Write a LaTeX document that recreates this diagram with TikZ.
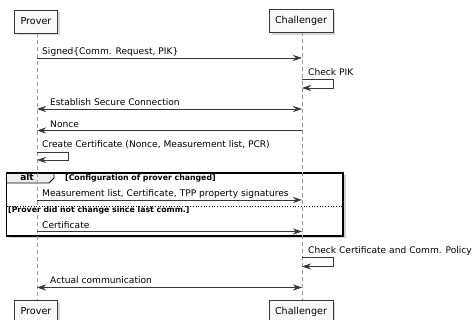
\documentclass[tikz,border=0pt]{standalone}
\usepackage{fontspec}
\setmainfont{DejaVu Sans}
\usetikzlibrary{arrows.meta,shadows}

\definecolor{linecol}{HTML}{383838}
\definecolor{lifecol}{HTML}{9A9A9A}
\definecolor{boxfill}{HTML}{F8F8F8}
\definecolor{tabfill}{HTML}{EEEEEE}

\tikzset{
  actor/.style={draw=linecol, fill=boxfill, line width=0.8pt, minimum height=23pt,
    inner xsep=6pt, inner ysep=0pt, font=\fontsize{9.6}{11}\selectfont,
    drop shadow={shadow xshift=2.5pt, shadow yshift=-2.5pt, fill=black!30}},
  lifeline/.style={draw=lifecol, line width=0.9pt, dash pattern=on 4pt off 3pt},
  msg/.style={draw=linecol, line width=0.8pt, -{Stealth[length=9pt, width=6pt, inset=3pt]}},
  bimsg/.style={msg, {Stealth[length=9pt, width=6pt, inset=3pt]}-{Stealth[length=9pt, width=6pt, inset=3pt]}},
  txt/.style={anchor=base west, inner sep=0pt, text=black, font=\fontsize{9.1}{11}\selectfont},
  guard/.style={anchor=base west, inner sep=0pt, font=\bfseries\fontsize{7.8}{9}\selectfont}
}

\begin{document}
\begin{tikzpicture}[x=1pt, y=-1pt]
  \useasboundingbox (0,0) rectangle (472,320);

  % alt frame (drawn first so the lifelines run over it)
  \draw[black, line width=1.3pt, fill=white,
    drop shadow={shadow xshift=2.5pt, shadow yshift=-2.5pt, fill=black!35}]
    (6.5,173) rectangle (343,236);
  \fill[tabfill] (6.5,173) -- (54,173) -- (54,178) -- (49,183) -- (6.5,183) -- cycle;
  \draw[black, line width=0.9pt] (6.5,183) -- (49,183) -- (54,178) -- (54,173);
  \draw[black, line width=1.3pt] (6.5,173) rectangle (343,236);
  \draw[black, line width=0.7pt, dotted] (6.5,206) -- (343,206);
  \node[anchor=base, inner sep=0pt, font=\bfseries\fontsize{9}{10}\selectfont] (alt) at (27,181) {alt};
  \node[guard] (g1) at (65,181) {[Configuration of prover changed]};
  \node[guard] (g2) at (8,212.5) {[Prover did not change since last comm.]};

  % participants and lifelines
  \coordinate (Ptop) at (37,33);
  \coordinate (Pbot) at (37,300);
  \coordinate (Ctop) at (302,32);
  \coordinate (Cbot) at (302,300);
  \draw[lifeline] (Ptop) -- (Pbot);
  \draw[lifeline] (Ctop) -- (Cbot);
  \node[actor] (P1) at (36,21.5) {Prover};
  \node[actor] (C1) at (301,21) {Challenger};
  \node[actor] (P2) at (36,311.5) {Prover};
  \node[actor] (C2) at (301,311.5) {Challenger};

  % messages
  \coordinate (p1) at (37,58);    \coordinate (c1) at (302,58);
  \draw[msg] (p1) -- (c1);
  \node[txt] (m1) at (42,55) {Signed\{Comm. Request, PIK\}};

  \coordinate (c2) at (302,79);   \coordinate (c3) at (302,88);
  \draw[msg] (c2) -- ++(31,0) |- (c3);
  \node[txt] (m2) at (308,76) {Check PIK};

  \coordinate (p4) at (37,109);   \coordinate (c4) at (302,109);
  \draw[bimsg] (p4) -- (c4);
  \node[txt] (m3) at (50,106) {Establish Secure Connection};

  \coordinate (p5) at (37,130.5); \coordinate (c5) at (302,130.5);
  \draw[msg] (c5) -- (p5);
  \node[txt] (m4) at (50,127.3) {Nonce};

  \coordinate (p6) at (37,152);   \coordinate (p7) at (37,160);
  \draw[msg] (p6) -- ++(31,0) |- (p7);
  \node[txt] (m5) at (42,147.5) {Create Certificate (Nonce, Measurement list, PCR)};

  \coordinate (p8) at (37,200);   \coordinate (c8) at (302,200);
  \draw[msg] (p8) -- (c8);
  \node[txt] (m6) at (42,196.7) {Measurement list, Certificate, TPP property signatures};

  \coordinate (p9) at (37,231.5); \coordinate (c9) at (302,231.5);
  \draw[msg] (p9) -- (c9);
  \node[txt] (m7) at (42,228.3) {Certificate};

  \coordinate (c10) at (302,257.5); \coordinate (c11) at (302,266.5);
  \draw[msg] (c10) -- ++(31,0) |- (c11);
  \node[txt] (m8) at (308,254) {Check Certificate and Comm. Policy};

  \coordinate (p12) at (37,287.5); \coordinate (c12) at (302,287.5);
  \draw[bimsg] (p12) -- (c12);
  \node[txt] (m9) at (50,284) {Actual communication};
\end{tikzpicture}
\end{document}
